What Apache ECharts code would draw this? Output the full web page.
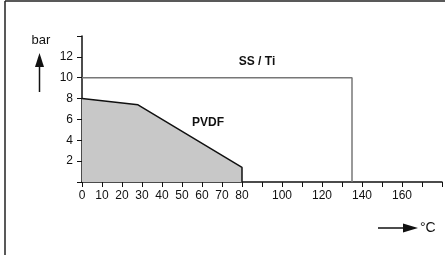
<!DOCTYPE html>
<html>
<head>
<meta charset="utf-8">
<script src="https://cdn.jsdelivr.net/npm/echarts@6/dist/echarts.min.js"></script>
<style>
  html, body { margin: 0; padding: 0; background: #fff; }
  #chart { width: 445px; height: 255px; }
</style>
</head>
<body>
<div id="chart"></div>
<script>
var chart_dom = document.getElementById('chart');
var chart = echarts.init(chart_dom, null, { renderer: 'canvas' });

// temperature (°C) / pressure (bar) limits
var ssTiLimit = [[0, 10], [135, 10], [135, 0]];
var pvdfLimit = [[0, 8], [28, 7.4], [80, 1.4], [80, 0]];
var xLabelValues = [0, 10, 20, 30, 40, 50, 60, 70, 80, 100, 120, 140, 160];
var yLabelValues = [2, 4, 6, 8, 10, 12];
var seriesNames = ['SS / Ti', 'PVDF'];
var labelSpots = [[87.5, 11.5], [63, 5.7]];

var font = 'Liberation Sans, Arial, sans-serif';

var option = {
  animation: false,
  textStyle: { fontFamily: font },
  grid: { left: 82, right: 3, top: 36, bottom: 73, containLabel: false },
  xAxis: {
    type: 'value',
    min: 0,
    max: 180,
    interval: 10,
    splitLine: { show: false },
    axisLine: { lineStyle: { color: '#111', width: 1.5 } },
    axisTick: { length: 5, lineStyle: { color: '#111', width: 1 } },
    axisLabel: {
      margin: 8,
      fontSize: 12,
      color: '#111',
      showMaxLabel: true,
      formatter: function (v) {
        return xLabelValues.indexOf(v) >= 0 ? String(v) : '';
      }
    }
  },
  yAxis: {
    type: 'value',
    min: 0,
    max: 14,
    interval: 2,
    splitLine: { show: false },
    axisLine: { lineStyle: { color: '#111', width: 1.5 } },
    axisTick: { length: 5, lineStyle: { color: '#111', width: 1 } },
    axisLabel: {
      margin: 9,
      fontSize: 12,
      color: '#111',
      formatter: function (v) {
        return yLabelValues.indexOf(v) >= 0 ? String(v) : '';
      }
    }
  },
  series: [
    {
      name: seriesNames[0],
      type: 'line',
      data: ssTiLimit,
      symbol: 'none',
      lineStyle: { color: '#777', width: 1.5 },
      z: 1
    },
    {
      name: seriesNames[1],
      type: 'line',
      data: pvdfLimit,
      symbol: 'none',
      lineStyle: { color: '#111', width: 1.5 },
      areaStyle: { color: '#c8c8c8', opacity: 1 },
      z: 2
    }
  ]
};

chart.setOption(option);

// labels placed through the axes
var p1 = chart.convertToPixel({ gridIndex: 0 }, labelSpots[0]);
var p2 = chart.convertToPixel({ gridIndex: 0 }, labelSpots[1]);

chart.setOption({
  graphic: [
    // frame (left and top edges)
    { type: 'line', shape: { x1: 5, y1: 1, x2: 5, y2: 255 }, style: { stroke: '#222', lineWidth: 1.5 } },
    { type: 'line', shape: { x1: 5, y1: 1, x2: 445, y2: 1 }, style: { stroke: '#222', lineWidth: 1.5 } },
    { type: 'text', x: p1[0], y: p1[1], style: { text: seriesNames[0], font: 'bold 12px ' + font, fill: '#111', align: 'center', verticalAlign: 'middle' } },
    { type: 'text', x: p2[0], y: p2[1], style: { text: seriesNames[1], font: 'bold 12px ' + font, fill: '#111', align: 'center', verticalAlign: 'middle' } },
    // y unit
    { type: 'text', x: 41, y: 40, style: { text: 'bar', font: '13px ' + font, fill: '#111', align: 'center', verticalAlign: 'middle' } },
    { type: 'line', shape: { x1: 39.5, y1: 62, x2: 39.5, y2: 92 }, style: { stroke: '#111', lineWidth: 1.5 } },
    { type: 'polygon', shape: { points: [[39.5, 53], [35, 67], [44, 67]] }, style: { fill: '#111' } },
    // x unit
    { type: 'line', shape: { x1: 378, y1: 228, x2: 406, y2: 228 }, style: { stroke: '#111', lineWidth: 1.5 } },
    { type: 'polygon', shape: { points: [[418, 228], [403, 223.5], [403, 232.5]] }, style: { fill: '#111' } },
    { type: 'text', x: 420, y: 228, style: { text: '°C', font: '14px ' + font, fill: '#111', align: 'left', verticalAlign: 'middle' } }
  ]
});

window.addEventListener('resize', chart.resize);
</script>
</body>
</html>
